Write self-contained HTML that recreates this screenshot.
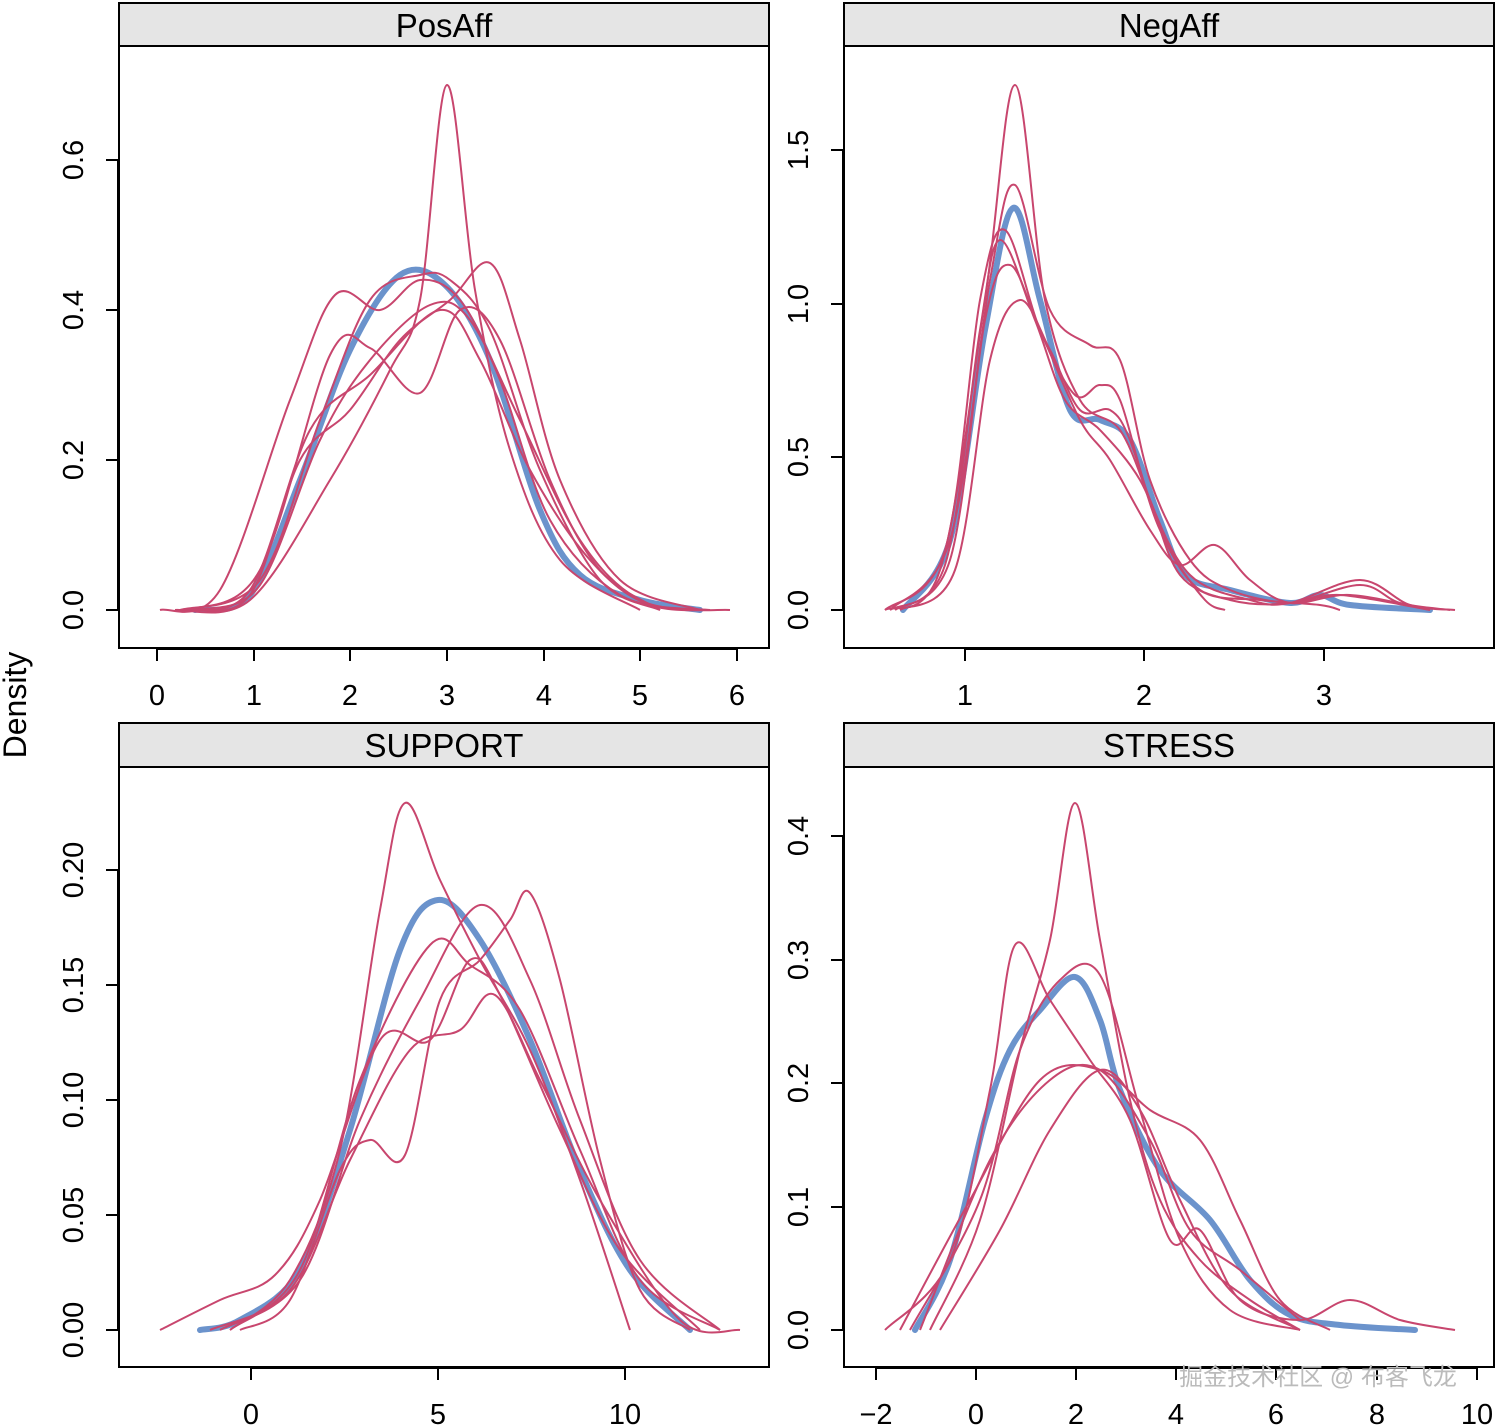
<!DOCTYPE html>
<html><head><meta charset="utf-8"><style>
body{margin:0;background:#fff}
svg{display:block}
text{font-family:"Liberation Sans","Noto Sans CJK SC",sans-serif;fill:#000}
</style></head><body>
<svg id="s" width="1496" height="1425" xmlns="http://www.w3.org/2000/svg">
<g fill="none" stroke="#000" stroke-width="2">
<rect x="119" y="3" width="650" height="43" fill="#e5e5e5"/>
<rect x="119" y="46" width="650" height="602"/>
<rect x="844" y="3" width="650" height="43" fill="#e5e5e5"/>
<rect x="844" y="46" width="650" height="602"/>
<rect x="119" y="723" width="650" height="44" fill="#e5e5e5"/>
<rect x="119" y="767" width="650" height="600"/>
<rect x="844" y="723" width="650" height="44" fill="#e5e5e5"/>
<rect x="844" y="767" width="650" height="600"/>
</g>
<g font-size="33" text-anchor="middle">
<text x="444" y="37">PosAff</text><text x="1169" y="37">NegAff</text>
<text x="444" y="757">SUPPORT</text><text x="1169" y="757">STRESS</text>
</g>
<text x="26" y="705" font-size="32" text-anchor="middle" transform="rotate(-90 26 705)">Density</text>
<g id="axes" stroke="#000" stroke-width="2" fill="none"></g>
<g id="lbl" font-size="29" text-anchor="middle"></g>
<g id="curves" fill="none"></g>
<text x="1318" y="1385" font-size="24" text-anchor="middle" style="fill:#bbb">掘金技术社区 @ 布客飞龙</text>
</svg>
<script>
var NS="http://www.w3.org/2000/svg";
function el(p,t,a,txt){var e=document.createElementNS(NS,t);for(var k in a)e.setAttribute(k,a[k]);if(txt!==undefined)e.textContent=txt;document.getElementById(p).appendChild(e);}
var xa=[[648,[[157,"0"],[254,"1"],[350,"2"],[447,"3"],[544,"4"],[640,"5"],[737,"6"]]],
[648,[[965,"1"],[1144,"2"],[1324,"3"]]],
[1367,[[251,"0"],[438,"5"],[625,"10"]]],
[1367,[[876,"\u22122"],[976,"0"],[1076,"2"],[1176,"4"],[1276,"6"],[1377,"8"],[1477,"10"]]]];
xa.forEach(function(a){var y=a[0]+1,t=a[1];el("axes","line",{x1:t[0][0],x2:t[t.length-1][0],y1:y,y2:y});
t.forEach(function(k){el("axes","line",{x1:k[0],x2:k[0],y1:y,y2:y+12});el("lbl","text",{x:k[0],y:y+56},k[1]);});});
var ya=[[119,[[610,"0.0"],[460,"0.2"],[310,"0.4"],[160,"0.6"]]],
[844,[[610,"0.0"],[457,"0.5"],[304,"1.0"],[150,"1.5"]]],
[119,[[1330,"0.00"],[1215,"0.05"],[1100,"0.10"],[985,"0.15"],[870,"0.20"]]],
[844,[[1330,"0.0"],[1207,"0.1"],[1083,"0.2"],[960,"0.3"],[836,"0.4"]]]];
ya.forEach(function(a){var x=a[0]-1,t=a[1];el("axes","line",{x1:x,x2:x,y1:t[0][0],y2:t[t.length-1][0]});
t.forEach(function(k){el("axes","line",{x1:x,x2:x-12,y1:k[0],y2:k[0]});var lx=x-45;el("lbl","text",{x:lx,y:k[0]+10,transform:"rotate(-90 "+lx+" "+k[0]+")"},k[1]);});});
function cr(p){var d="M"+p[0][0]+","+p[0][1];for(var i=0;i<p.length-1;i++){var p0=p[i-1]||p[i],p1=p[i],p2=p[i+1],p3=p[i+2]||p2;
d+=" C"+(p1[0]+(p2[0]-p0[0])/6)+","+(p1[1]+(p2[1]-p0[1])/6)+" "+(p2[0]-(p3[0]-p1[0])/6)+","+(p2[1]-(p3[1]-p1[1])/6)+" "+p2[0]+","+p2[1];}return d;}
var R=[
[[175,610],[250,600],[330,480],[390,370],[420,300],[447,85],[475,290],[510,450],[560,560],[640,610]],
[[160,610],[220,590],[290,400],[335,295],[380,310],[420,280],[460,300],[500,380],[550,520],[620,595],[700,610]],
[[190,610],[250,595],[300,460],[350,410],[400,340],[450,300],[490,263],[520,340],[560,480],[620,580],[700,610]],
[[190,610],[260,570],[330,355],[370,348],[420,393],[460,310],[500,340],[550,480],[600,570],[660,610]],
[[180,610],[260,580],[320,420],[370,300],[420,275],[450,280],[490,330],[540,470],[600,580],[660,610]],
[[200,610],[260,585],[320,440],[370,360],[430,305],[470,320],[520,420],[580,540],[640,600],[710,610]],
[[185,610],[250,590],[310,430],[370,375],[440,310],[480,360],[530,470],[590,560],[650,605],[730,610]],
[[885,610],[940,570],[985,300],[1015,85],[1045,300],[1080,400],[1120,430],[1150,500],[1180,575],[1230,600],[1290,603],[1360,585],[1400,603],[1450,610]],
[[890,610],[950,540],[990,280],[1015,185],[1050,310],[1090,345],[1120,360],[1150,480],[1190,560],[1230,590],[1290,603],[1340,595],[1430,610]],
[[885,610],[945,550],[980,300],[1005,230],[1040,330],[1075,395],[1100,385],[1120,400],[1150,500],[1190,575],[1250,600],[1290,603],[1360,580],[1410,605],[1455,610]],
[[895,610],[950,560],[985,320],[1010,265],[1040,330],[1080,420],[1110,460],[1150,530],[1180,565],[1215,545],[1250,580],[1290,603],[1350,595],[1430,610]],
[[900,610],[955,570],[990,360],[1020,300],[1050,350],[1080,410],[1110,410],[1130,440],[1160,530],[1200,590],[1260,600],[1320,605],[1340,610]],
[[890,610],[945,565],[980,330],[1000,240],[1035,320],[1065,400],[1100,430],[1140,480],[1170,550],[1205,600],[1225,610]],
[[230,1330],[290,1280],[340,1150],[380,910],[405,803],[440,880],[480,960],[530,1050],[580,1180],[630,1330]],
[[240,1330],[290,1300],[340,1170],[370,1140],[405,1155],[440,1000],[480,960],[510,920],[530,893],[560,980],[600,1160],[640,1290],[690,1330]],
[[160,1330],[220,1300],[275,1275],[320,1200],[380,1040],[430,1040],[470,960],[500,995],[560,1130],[620,1250],[700,1330]],
[[230,1330],[300,1270],[360,1080],[430,945],[470,965],[520,1010],[580,1150],[640,1280],[720,1330]],
[[210,1330],[290,1290],[350,1160],[410,1050],[460,1030],[495,995],[540,1080],[600,1200],[680,1320],[740,1330]],
[[220,1330],[300,1280],[360,1120],[420,1000],[480,905],[530,980],[580,1120],[640,1260],[720,1330]],
[[930,1330],[980,1220],[1020,1050],[1050,940],[1075,803],[1100,940],[1130,1100],[1160,1200],[1200,1260],[1250,1300],[1300,1330]],
[[885,1330],[950,1260],[990,1090],[1015,945],[1050,1000],[1090,1060],[1130,1120],[1170,1240],[1200,1230],[1240,1300],[1300,1320],[1350,1300],[1400,1320],[1455,1330]],
[[900,1330],[970,1200],[1040,1080],[1100,1070],[1150,1110],[1200,1140],[1240,1220],[1280,1300],[1330,1330]],
[[910,1330],[980,1200],[1020,1050],[1060,980],[1100,975],[1140,1110],[1180,1240],[1230,1310],[1300,1330]],
[[920,1330],[990,1160],[1050,1080],[1100,1070],[1150,1140],[1190,1230],[1240,1270],[1300,1320]],
[[940,1330],[1000,1230],[1050,1130],[1100,1070],[1140,1110],[1180,1200],[1230,1290],[1300,1330]]];
var B=[
[[195,610],[250,595],[300,480],[350,350],[400,275],[445,285],[490,360],[540,510],[580,575],[640,600],[700,610]],
[[903,610],[950,540],[985,330],[1013,208],[1040,300],[1070,410],[1100,420],[1130,440],[1160,520],[1185,575],[1230,590],[1290,603],[1320,595],[1350,605],[1430,610]],
[[200,1330],[240,1320],[300,1270],[350,1130],[400,950],[438,900],[480,940],[530,1040],[580,1170],[630,1270],[690,1330]],
[[915,1330],[950,1260],[985,1120],[1010,1050],[1040,1010],[1075,977],[1100,1020],[1120,1090],[1160,1170],[1210,1220],[1250,1280],[1290,1315],[1340,1325],[1415,1330]]];
B.forEach(function(p){el("curves","path",{d:cr(p),stroke:"#6b93cc","stroke-width":6,"stroke-linecap":"round"});});
R.forEach(function(p){el("curves","path",{d:cr(p),stroke:"#c8466e","stroke-width":2});});
</script>
</body></html>
